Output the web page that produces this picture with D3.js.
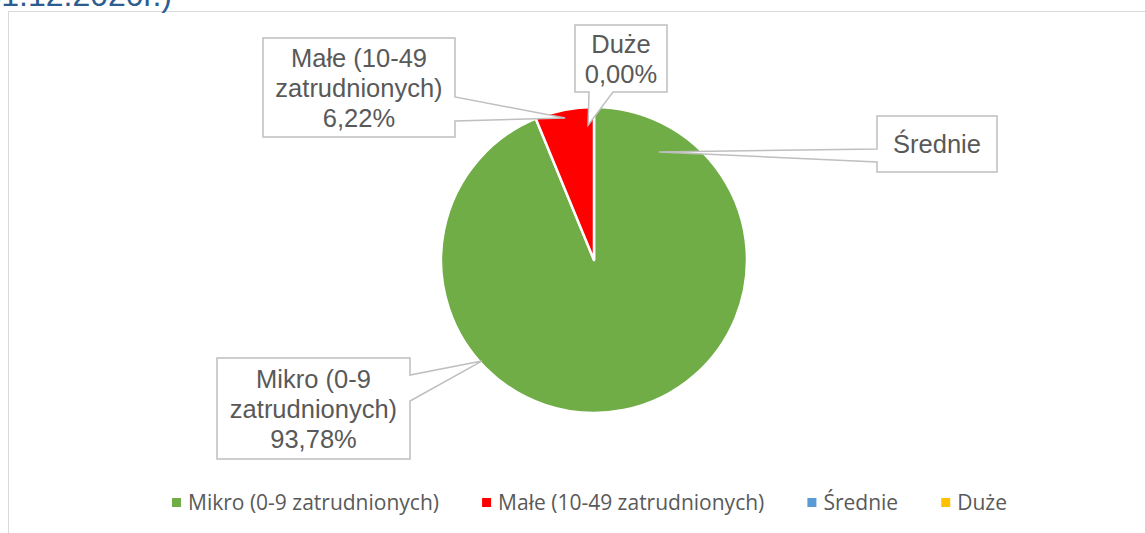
<!DOCTYPE html>
<html>
<head>
<meta charset="utf-8">
<script src="https://cdn.jsdelivr.net/npm/d3@7"></script>
<style>
  html, body { margin: 0; padding: 0; background: #fff; overflow: hidden; }
  svg { display: block; }
</style>
</head>
<body>
<svg id="chart" width="1145" height="533"></svg>
<script>
"use strict";

var categories = ["Mikro (0-9 zatrudnionych)", "Małe (10-49 zatrudnionych)", "Średnie", "Duże"];
var shares = [93.78, 6.22, null, 0.00];
var colors = ["#70ad47", "#ff0000", "#5b9bd5", "#ffc000"];
var labelLines = [
    ["Mikro (0-9", "zatrudnionych)", "93,78%"],
    ["Małe (10-49", "zatrudnionych)", "6,22%"],
    ["Średnie"],
    ["Duże", "0,00%"]
];
var titleText = "(stan na 31.12.2020r.)";

// callout boxes: box rect, side where the leader leaves, attach offsets, tip angle (deg) / radius
var callouts = [
    {x: 217, y: 358, w: 193, h: 101, side: "right",  a1: 17, a2: 43, tipAngle: 228,   tipR: 151},
    {x: 263, y: 38,  w: 192, h: 99,  side: "right",  a1: 59, a2: 83, tipAngle: 348.5, tipR: 145},
    {x: 877, y: 116, w: 120, h: 56,  side: "left",   a1: 33, a2: 46, tipAngle: 31,    tipR: 126},
    {x: 575, y: 25,  w: 92,  h: 67,  side: "bottom", a1: 14, a2: 38, tipAngle: 357.5, tipR: 135}
];

var svg = d3.select("#chart");
var cx = 594, cy = 260, radius = 153;

// chart area frame (runs off the right / bottom of the picture)
svg.append("rect")
    .attr("x", 8.5).attr("y", 11.5)
    .attr("width", 1200).attr("height", 600)
    .attr("fill", "none")
    .attr("stroke", "#d9d9d9")
    .attr("stroke-width", 1);

// title, mostly above the visible area
svg.append("text")
    .attr("x", 172).attr("y", 6)
    .attr("text-anchor", "end")
    .attr("font-family", "'Liberation Sans', Arial, sans-serif")
    .attr("font-size", 32)
    .attr("fill", "#2c5d8f")
    .text(titleText);

var data = categories.map(function(c, i) {
    return {name: c, value: shares[i] || 0, color: colors[i], lines: labelLines[i], callout: callouts[i]};
});

var pie = d3.pie().sort(null).value(function(d) { return d.value; });
var arc = d3.arc().innerRadius(0).outerRadius(radius);

var pieG = svg.append("g").attr("transform", "translate(" + cx + "," + cy + ")");

pieG.selectAll("path.slice")
    .data(pie(data).filter(function(d) { return d.data.value > 0; }))
    .enter()
    .append("path")
        .attr("class", "slice")
        .attr("d", arc)
        .attr("fill", function(d) { return d.data.color; })
        .attr("stroke", "#fff")
        .attr("stroke-width", 2.5)
        .attr("stroke-linejoin", "round");

// callouts
var calloutPath = function(c) {
    var tip = d3.pointRadial(c.tipAngle * Math.PI / 180, c.tipR);
    var tx = cx + tip[0], ty = cy + tip[1];
    var x = c.x, y = c.y, r = c.x + c.w, b = c.y + c.h;
    var p = d3.path();
    p.moveTo(x, y);
    p.lineTo(r, y);
    if (c.side === "right") {
        p.lineTo(r, y + c.a1); p.lineTo(tx, ty); p.lineTo(r, y + c.a2);
    }
    p.lineTo(r, b);
    if (c.side === "bottom") {
        p.lineTo(x + c.a2, b); p.lineTo(tx, ty); p.lineTo(x + c.a1, b);
    }
    p.lineTo(x, b);
    if (c.side === "left") {
        p.lineTo(x, y + c.a2); p.lineTo(tx, ty); p.lineTo(x, y + c.a1);
    }
    p.closePath();
    return p.toString();
};

var labels = svg.selectAll("g.data-label")
    .data(data)
    .enter()
    .append("g")
        .attr("class", "data-label");

labels.append("path")
    .attr("d", function(d) { return calloutPath(d.callout); })
    .attr("fill", "#fff")
    .attr("stroke", "#bfbfbf")
    .attr("stroke-width", 1.5)
    .attr("stroke-linejoin", "miter");

var lineHeight = 30;
labels.append("text")
    .attr("text-anchor", "middle")
    .attr("font-family", "'Liberation Sans', Arial, sans-serif")
    .attr("font-size", 25.5)
    .attr("fill", "#595959")
    .each(function(d) {
        var c = d.callout;
        var midX = c.x + c.w / 2;
        var first = c.y + c.h / 2 - (d.lines.length - 1) * lineHeight / 2 + 9;
        d3.select(this).selectAll("tspan")
            .data(d.lines)
            .enter()
            .append("tspan")
                .attr("x", midX)
                .attr("y", function(t, i) { return first + i * lineHeight; })
                .text(function(t) { return t; });
    });

// legend
var legendLeft = 172, legendRight = 1007, swatch = 9, textPad = 16;
var legendG = svg.append("g").attr("class", "legend");
var legendItems = legendG.selectAll("g.legend-item")
    .data(data)
    .enter()
    .append("g")
        .attr("class", "legend-item");

legendItems.append("rect")
    .attr("y", 498)
    .attr("width", swatch).attr("height", swatch)
    .attr("fill", function(d) { return d.color; });

legendItems.append("text")
    .attr("x", textPad)
    .attr("y", 510)
    .attr("font-family", "'Open Sans', 'Noto Sans', sans-serif")
    .attr("font-size", 21)
    .attr("fill", "#595959")
    .text(function(d) { return d.name; });

var widths = [];
legendItems.each(function() {
    widths.push(textPad + this.querySelector("text").getComputedTextLength());
});
var legendGap = (legendRight - legendLeft - d3.sum(widths)) / (widths.length - 1);
var offset = legendLeft;
legendItems.attr("transform", function(d, i) {
    var x = offset;
    offset += widths[i] + legendGap;
    return "translate(" + x + ",0)";
});
</script>
</body>
</html>
